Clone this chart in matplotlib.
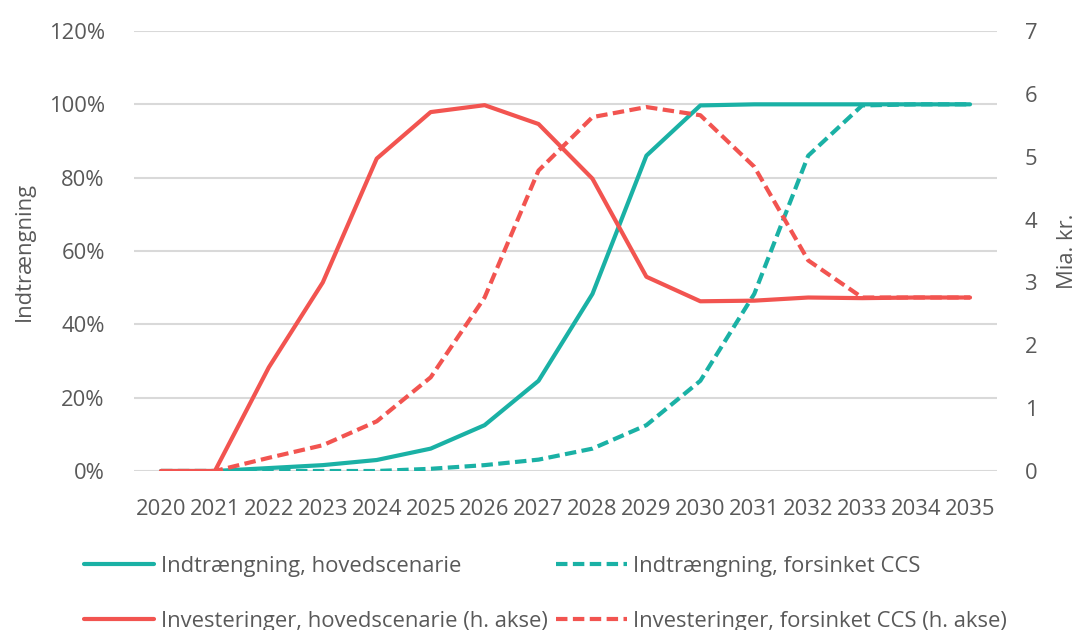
import matplotlib.pyplot as plt
import numpy as np

plt.rcParams['font.family'] = ['Open Sans', 'DejaVu Sans']

years = [str(y) for y in range(2020, 2036)]

# Indtrængning (venstre akse, andel)
indtr_hoved = [0, 0, 0.008, 0.016, 0.03, 0.061, 0.125, 0.246, 0.483, 0.86, 0.997, 1.0, 1.0, 1.0, 1.0, 1.0]
indtr_forsinket = [0, 0, 0, 0, 0, 0.006, 0.016, 0.031, 0.061, 0.125, 0.246, 0.483, 0.86, 0.997, 1.0, 1.0]

# Investeringer (højre akse, mia. kr.)
inv_hoved = [0, 0, 1.65, 3.0, 4.97, 5.71, 5.82, 5.52, 4.65, 3.09, 2.70, 2.71, 2.76, 2.75, 2.76, 2.76]
inv_forsinket = [0, 0, 0.21, 0.41, 0.79, 1.49, 2.76, 4.78, 5.63, 5.79, 5.66, 4.84, 3.35, 2.76, 2.76, 2.76]

teal = '#1AB1A5'
red = '#F25450'
grey = '#595959'
fs = 15.8

fig = plt.figure(figsize=(10.77, 6.3), dpi=100)
ax = fig.add_axes([134 / 1077, 1 - 471 / 630, 863 / 1077, 440 / 630])
ax2 = ax.twinx()

x = np.arange(len(years))
l1, = ax.plot(x, indtr_hoved, color=teal, lw=3, solid_capstyle='round')
l2, = ax.plot(x, indtr_forsinket, color=teal, lw=3, ls=(0, (2.75, 1.3)))
l3, = ax2.plot(x, inv_hoved, color=red, lw=3, solid_capstyle='round')
l4, = ax2.plot(x, inv_forsinket, color=red, lw=3, ls=(0, (2.75, 1.3)))

ax.set_xlim(-0.5, len(years) - 0.5)
ax.set_ylim(0, 1.2)
ax2.set_ylim(0, 7)
ax.set_yticks(np.arange(0, 1.21, 0.2))
ax.set_yticklabels([f'{int(round(v * 100))}%' for v in np.arange(0, 1.21, 0.2)])
ax2.set_yticks(range(0, 8))
ax.set_xticks(x)
ax.set_xticklabels(years)

ax.grid(axis='y', color='#D9D9D9', lw=1.5)
ax.set_axisbelow(True)
for a in (ax, ax2):
    for s in a.spines.values():
        s.set_visible(False)
ax.tick_params(axis='y', length=0, pad=21, labelsize=fs, labelcolor=grey)
ax.tick_params(axis='x', length=0, pad=20, labelsize=fs, labelcolor=grey)
ax2.tick_params(axis='y', length=0, pad=20, labelsize=fs, labelcolor=grey)

ax.set_ylabel('Indtrængning', fontsize=fs, color=grey, labelpad=10)
ax2.set_ylabel('Mia. kr.', fontsize=fs, color=grey, labelpad=14)

fig.legend([l1, l3, l2, l4],
           ['Indtrængning, hovedscenarie', 'Investeringer, hovedscenarie (h. akse)',
            'Indtrængning, forsinket CCS', 'Investeringer, forsinket CCS (h. akse)'],
           ncol=2, loc='upper left', bbox_to_anchor=(84 / 1077, 1 - 556 / 630),
           frameon=False, fontsize=fs, labelcolor=grey, handlelength=3.2,
           handletextpad=0.3, columnspacing=0.4, labelspacing=1.55,
           borderpad=0, borderaxespad=0)

fig.savefig('out.png', dpi=100)
